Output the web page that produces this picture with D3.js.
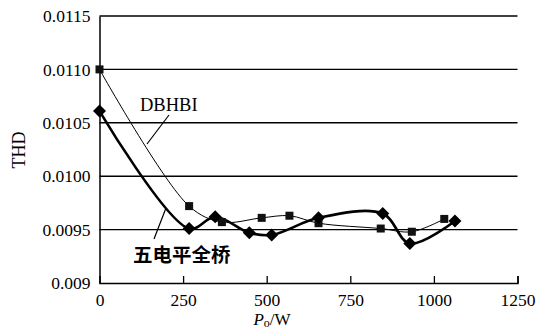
<!DOCTYPE html>
<html><head><meta charset="utf-8">
<script src="https://cdn.jsdelivr.net/npm/d3@7"></script>
<style>body{margin:0;background:#fff}svg{display:block}</style>
</head><body>
<svg id="c" width="538" height="329"></svg>
<script>
const xTicks = [0, 250, 500, 750, 1000, 1250];
const yTicks = [0.009, 0.0095, 0.0100, 0.0105, 0.0110, 0.0115];
const yTickLabels = ["0.009", "0.0095", "0.0100", "0.0105", "0.0110", "0.0115"];
const dbhbiX = [0, 268, 366, 485, 568, 655, 841, 934, 1031];
const dbhbiY = [0.01100, 0.00972, 0.00957, 0.00961, 0.00963, 0.00956, 0.00951, 0.00948, 0.00960];
const fiveX = [0, 268, 346, 448, 515, 655, 847, 928, 1063];
const fiveY = [0.01061, 0.00951, 0.00962, 0.00947, 0.00945, 0.00961, 0.00965, 0.00937, 0.00958];
const seriesNames = ["DBHBI", "五电平全桥"];

const svg = d3.select("#c");
const x = d3.scaleLinear().domain([0, 1250]).range([99.5, 517.5]);
const y = d3.scaleLinear().domain([0.009, 0.0115]).range([283, 16]);
const serif = "Liberation Serif, Times New Roman, serif";

// gridlines
svg.append("g").selectAll("line").data(yTicks.slice(1)).join("line")
  .attr("x1", x(0)).attr("x2", x(1250))
  .attr("y1", d => y(d)).attr("y2", d => y(d))
  .attr("stroke", "#000").attr("stroke-width", 1.4);

// x axis
const xa = svg.append("g").attr("transform", `translate(0,${y(0.009)})`)
  .call(d3.axisBottom(x).tickValues(xTicks).tickSize(-7).tickPadding(12).tickFormat(d3.format("d")))
  .attr("font-family", serif).attr("font-size", 17.5);
xa.select(".domain").attr("stroke-width", 1.5);
xa.selectAll(".tick line").attr("stroke-width", 1.3).filter(d => d === 0).remove();
xa.selectAll("text").attr("fill", "#000").attr("dy", "0.72em").attr("y", 10);

// y axis
const ya = svg.append("g").attr("transform", `translate(${x(0)},0)`)
  .call(d3.axisLeft(y).tickValues(yTicks).tickSize(0).tickPadding(9).tickFormat((d, i) => yTickLabels[i]))
  .attr("font-family", serif).attr("font-size", 17.5);
ya.select(".domain").attr("stroke-width", 1.5);
ya.selectAll("text").attr("fill", "#000");

// axis titles
svg.append("text").attr("transform", "translate(25,150) rotate(-90)")
  .attr("text-anchor", "middle").attr("font-family", serif).attr("font-size", 18).attr("fill", "#000").text("THD");
const xt = svg.append("text").attr("x", 272).attr("y", 325).attr("text-anchor", "middle")
  .attr("font-family", serif).attr("font-size", 17).attr("fill", "#000");
xt.append("tspan").attr("font-style", "italic").text("P");
xt.append("tspan").attr("font-size", 12).attr("dy", 2).text("o");
xt.append("tspan").attr("dy", -2).text("/W");

const line = d3.line().x(d => x(d[0])).y(d => y(d[1])).curve(d3.curveCatmullRom.alpha(0.5));
const dA = dbhbiX.map((v, i) => [v, dbhbiY[i]]);
const dB = fiveX.map((v, i) => [v, fiveY[i]]);

svg.append("path").attr("d", line(dA)).attr("fill", "none").attr("stroke", "#000").attr("stroke-width", 1);
svg.append("path").attr("d", line(dB)).attr("fill", "none").attr("stroke", "#000").attr("stroke-width", 2.6);

svg.append("g").selectAll("rect").data(dA).join("rect")
  .attr("x", d => x(d[0]) - 4).attr("y", d => y(d[1]) - 4).attr("width", 8).attr("height", 8)
  .attr("fill", "#111");
svg.append("g").selectAll("path").data(dB).join("path")
  .attr("transform", d => `translate(${x(d[0])},${y(d[1])})`)
  .attr("d", "M0,-6.5L6.5,0L0,6.5L-6.5,0Z").attr("fill", "#000");

// annotations
svg.append("text").attr("x", 140).attr("y", 111).attr("font-family", serif).attr("font-size", 18.5).attr("fill", "#000").text(seriesNames[0]);
svg.append("line").attr("x1", 169).attr("y1", 115).attr("x2", 147).attr("y2", 144).attr("stroke", "#000").attr("stroke-width", 1.2);
svg.append("text").attr("x", 133).attr("y", 262).attr("font-family", "Noto Sans CJK SC, sans-serif").attr("font-weight", "bold").attr("font-size", 19.5).attr("fill", "#000").text(seriesNames[1]);
svg.append("line").attr("x1", 154).attr("y1", 239).attr("x2", 166).attr("y2", 208).attr("stroke", "#000").attr("stroke-width", 1.2);
</script>
</body></html>
